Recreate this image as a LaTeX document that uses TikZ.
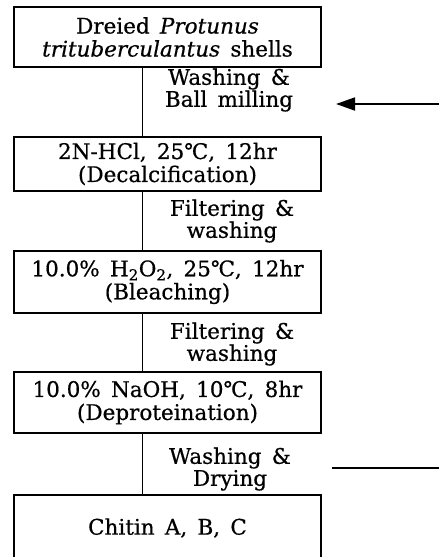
\documentclass[tikz,border=0pt]{standalone}
\usepackage{fontspec}
\setmainfont{DejaVu Serif}[FakeBold=0.6, WordSpace=1.5]
\usetikzlibrary{arrows.meta}
\begin{document}
\begin{tikzpicture}[x=1pt,y=-1pt,
  stepbox/.style={draw, line width=1.7pt, minimum width=307pt, align=center, inner sep=0pt,
    font=\fontsize{21.5}{23}\selectfont},
  lbl/.style={align=center, inner sep=0pt, font=\fontsize{21.5}{22}\selectfont},
  link/.style={line width=0.9pt},
  feed/.style={line width=1.8pt}]
\useasboundingbox (0,0) rectangle (439,557);
\node[stepbox, minimum height=60pt] (b1) at (167.5,37) {Dreied \textit{Protunus}\\\textit{trituberculantus} shells};
\node[stepbox, minimum height=54pt] (b2) at (167.5,164) {2N-HCl, 25℃, 12hr\\(Decalcification)};
\node[stepbox, minimum height=62pt] (b3) at (167.5,282) {10.0\% H\textsubscript{2}O\textsubscript{2}, 25℃, 12hr\\(Bleaching)};
\node[stepbox, minimum height=61pt] (b4) at (167.5,402.5) {10.0\% NaOH, 10℃, 8hr\\(Deproteination)};
\node[stepbox, minimum height=70pt] (b5) at (167.5,530) {\raisebox{7pt}{Chitin A, B, C}};
\coordinate (cx) at (142,0);
\draw[link] (b1.south -| cx) -- (b2.north -| cx);
\draw[link] (b2.south -| cx) -- (b3.north -| cx);
\draw[link] (b3.south -| cx) -- (b4.north -| cx);
\draw[link] (b4.south -| cx) -- (b5.north -| cx);
\node[lbl] (l1) at (229,90) {Washing \&\\Ball milling};
\node[lbl] (l2) at (232,221) {Filtering \&\\washing};
\node[lbl] (l3) at (232,344) {Filtering \&\\washing};
\node[lbl] (l4) at (230,469) {Washing \&\\Drying};
\coordinate (inS) at (439,104);
\coordinate (inE) at (336,104);
\draw[feed, -{Triangle[length=19pt,width=13pt]}] (inS) -- (inE);
\coordinate (outS) at (332,468);
\coordinate (outE) at (439,468);
\draw[feed] (outS) -- (outE);
\end{tikzpicture}
\end{document}
